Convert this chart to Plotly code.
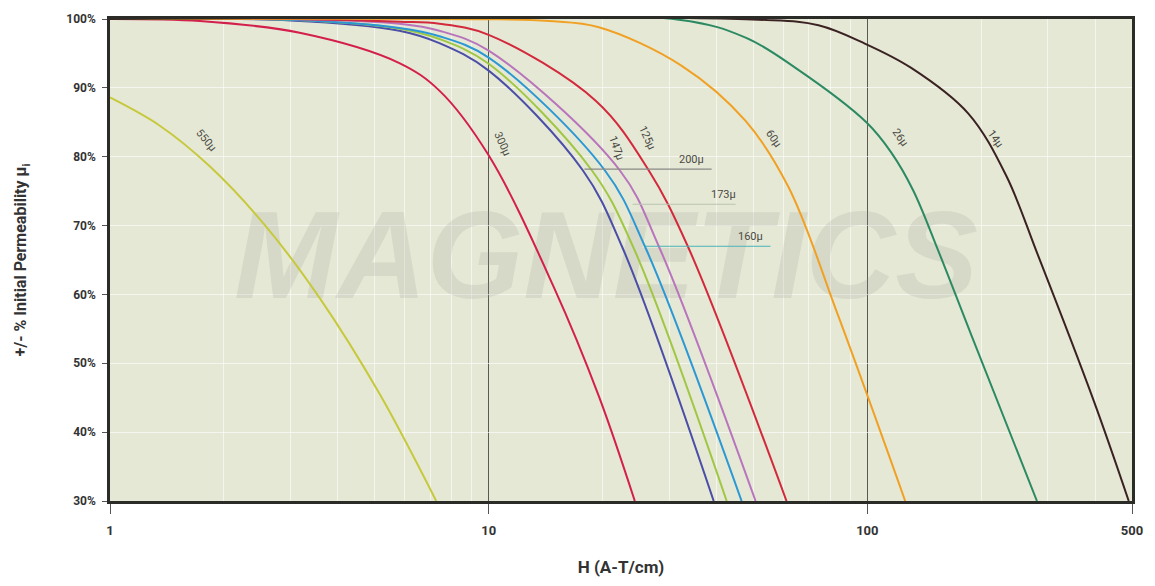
import math
import plotly.graph_objects as go

# Field strength H (A-T/cm) and % of initial permeability for each material
h_550 = [1.0, 1.354, 1.834, 2.561, 3.576, 5.146, 7.27]
p_550 = [88.6, 84.5, 78.6, 70.1, 59.5, 45.6, 30.0]

h_300 = [1.0, 1.726, 3.168, 5.81, 7.41, 10.0, 14.85, 19.55, 24.32]
p_300 = [100.0, 99.7, 98.0, 93.6, 89.6, 80.2, 61.1, 45.2, 30.0]

h_200 = [1.0, 3.0, 5.81, 7.41, 10.0, 17.74, 22.48, 39.29]
p_200 = [100.0, 99.8, 98.3, 96.5, 92.5, 78.0, 67.0, 30.0]

h_173 = [1.0, 3.0, 5.81, 7.41, 10.0, 18.74, 24.03, 42.52]
p_173 = [100.0, 99.9, 98.6, 97.1, 93.5, 78.0, 67.0, 30.0]

h_160 = [1.0, 3.0, 5.81, 7.41, 10.0, 20.28, 25.85, 46.56]
p_160 = [100.0, 99.9, 98.7, 97.5, 94.4, 78.0, 67.0, 30.0]

h_147 = [1.0, 3.0, 5.81, 7.41, 10.0, 22.21, 28.13, 50.69]
p_147 = [100.0, 100.0, 99.3, 98.3, 95.4, 78.0, 67.0, 30.0]

h_125 = [1.0, 3.0, 5.81, 7.41, 10.0, 19.2, 26.48, 33.56, 61.18]
p_125 = [100.0, 100.0, 99.6, 99.3, 97.7, 88.1, 78.0, 67.0, 30.0]

h_60 = [1.0, 10.66, 14.43, 19.55, 32.35, 47.7, 61.9, 83.9, 125.9]
p_60 = [100.0, 99.95, 99.7, 98.8, 93.2, 85.2, 75.6, 56.8, 30.0]

h_26 = [1.0, 31.8, 47.7, 64.6, 99.4, 115.7, 132.2, 153.8, 187.9, 280.5]
p_26 = [100.0, 99.9, 97.3, 92.9, 85.0, 80.6, 75.1, 66.4, 54.2, 30.0]

h_14 = [1.0, 51.6, 74.3, 98.8, 130.6, 184.6, 232.4, 282.2, 396.5, 490.2]
p_14 = [100.0, 99.9, 99.1, 96.4, 92.9, 86.3, 77.3, 65.7, 44.5, 30.0]

series = [
    ("550µ", h_550, p_550, "#c6c93c"),
    ("300µ", h_300, p_300, "#d31f4b"),
    ("200µ", h_200, p_200, "#4a4ea6"),
    ("173µ", h_173, p_173, "#9fc743"),
    ("160µ", h_160, p_160, "#2b98d4"),
    ("147µ", h_147, p_147, "#b874bc"),
    ("125µ", h_125, p_125, "#d22a3c"),
    ("60µ", h_60, p_60, "#f0a124"),
    ("26µ", h_26, p_26, "#2c8a62"),
    ("14µ", h_14, p_14, "#3a2222"),
]

# Rotated curve labels: (text, H, %, angle)
curve_labels = [
    ("550µ", 1.80, 82.4, 50),
    ("300µ", 10.85, 81.9, 65),
    ("147µ", 21.7, 81.3, 70),
    ("125µ", 26.2, 82.8, 65),
    ("60µ", 56.5, 82.6, 55),
    ("26µ", 122.2, 82.8, 55),
    ("14µ", 217.5, 82.6, 55),
]

# Horizontal leader lines with labels: (text, H start, H end, %, text H, text %, colour)
leaders = [
    ("200µ", 17.9, 38.8, 78.2, 34.4, 79.6, "#8a8a86"),
    ("173µ", 24.0, 44.9, 73.1, 41.7, 74.5, "#b9c4b0"),
    ("160µ", 26.0, 55.5, 67.0, 49.2, 68.4, "#49b3b8"),
]

y_ticks = [30, 40, 50, 60, 70, 80, 90, 100]
x_ticks = [1, 10, 100, 500]

font_family = "Liberation Sans Narrow, Roboto, Arial, sans-serif"
label_font = dict(size=11, color="#4a4a44", family=font_family)

fig = go.Figure()

# faint watermark behind the curves
fig.add_trace(go.Scatter(
    x=[20.4], y=[64.0], mode="text", text=["<b><i>MAGNETICS</i></b>"],
    textfont=dict(size=124, color="rgba(150,150,138,0.18)", family="Liberation Sans, Arial"),
    hoverinfo="skip", showlegend=False,
))

for name, hx, py, col in series:
    fig.add_trace(go.Scatter(
        x=hx, y=py, mode="lines", name=name,
        line=dict(color=col, width=2, shape="spline", smoothing=1.0),
        showlegend=False,
    ))

for text, h0, h1, p, th, tp, col in leaders:
    fig.add_trace(go.Scatter(
        x=[h0, h1], y=[p, p], mode="lines",
        line=dict(color=col, width=1.2), showlegend=False, hoverinfo="skip",
    ))
    # annotations on a log axis take log10 positions
    fig.add_annotation(x=math.log10(th), y=tp, xref="x", yref="y", text=text,
                       showarrow=False, font=label_font)

for text, h, p, ang in curve_labels:
    fig.add_annotation(x=math.log10(h), y=p, xref="x", yref="y", text=text,
                       showarrow=False, textangle=ang, font=label_font)

fig.update_layout(
    width=1155, height=586,
    margin=dict(l=110, r=20, t=18, b=84),
    paper_bgcolor="white",
    plot_bgcolor="#e6e8d6",
    font=dict(family=font_family, color="#333333"),
)

fig.update_xaxes(
    type="log", range=[0, math.log10(500)],
    tickmode="array", tickvals=x_ticks, ticktext=[f"<b>{v}</b>" for v in x_ticks],
    ticks="outside", ticklen=10, tickwidth=1, tickcolor="#555555",
    ticklabelstandoff=6,
    showgrid=True, gridcolor="#5a5a55", gridwidth=1,
    minor=dict(dtick="D1", showgrid=True, gridcolor="rgba(255,255,255,0.55)", gridwidth=1, ticks=""),
    showline=True, linecolor="#2b2b28", linewidth=2.5, mirror=True,
    zeroline=False,
    tickfont=dict(size=13, color="#333333", family=font_family),
    title=dict(text="<b>H (A-T/cm)</b>", font=dict(size=17, color="#333333", family=font_family), standoff=24),
)

fig.update_yaxes(
    range=[30, 100],
    tickmode="array", tickvals=y_ticks, ticktext=[f"<b>{v}%</b>" for v in y_ticks],
    ticks="outside", ticklen=5, tickwidth=1, tickcolor="#555555",
    ticklabelstandoff=4,
    showgrid=True, gridcolor="rgba(255,255,255,0.6)", gridwidth=1,
    showline=True, linecolor="#2b2b28", linewidth=2.5, mirror=True,
    zeroline=False,
    tickfont=dict(size=12, color="#333333", family=font_family),
    title=dict(text="<b>+/- % Initial Permeability µ<sub>i</sub></b>",
               font=dict(size=16, color="#333333", family=font_family), standoff=36),
)

fig.write_html("out.html")
